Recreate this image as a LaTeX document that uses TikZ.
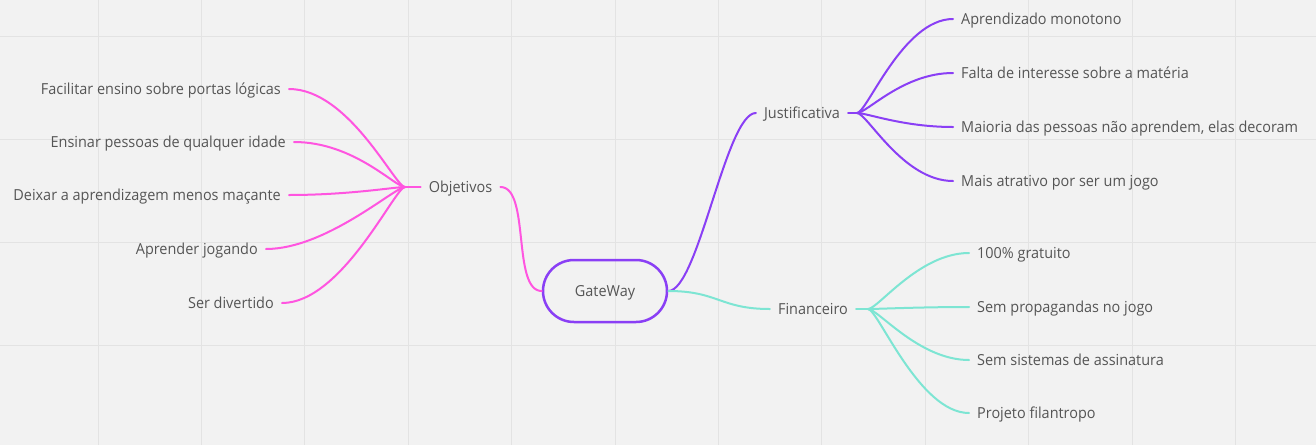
\documentclass[tikz,border=0pt]{standalone}
\usepackage{fontspec}
\setmainfont{Open Sans}[FakeStretch=0.95]
\definecolor{bg}{HTML}{F2F2F2}
\definecolor{gridc}{HTML}{E3E3E3}
\definecolor{pinkc}{HTML}{FF55E0}
\definecolor{purp}{HTML}{8A3FF5}
\definecolor{tealc}{HTML}{7DE5D3}
\definecolor{txt}{HTML}{555555}
\begin{document}
\begin{tikzpicture}[x=1pt,y=-1pt,
  lbl/.style={font=\fontsize{15.2}{18}\selectfont, text=txt, inner xsep=8pt, inner ysep=1pt, text height=12pt, text depth=1.4pt},
  br/.style={line width=2pt, line cap=round}]
\fill[bg] (0,0) rectangle (1316,445);
\useasboundingbox (0,0) rectangle (1316,445);
\foreach \i in {0,...,11} \draw[gridc, line width=1pt] ({98+103.4*\i},0) -- ({98+103.4*\i},445);
\foreach \j in {0,...,3} \draw[gridc, line width=1pt] (0,{36+103*\j}) -- (1316,{36+103*\j});

% central
\node[lbl, draw=purp, line width=2.5pt, rounded corners=31pt, minimum width=124pt, minimum height=62pt] (gw) at (605,291) {GateWay};

% level 1
\node[lbl] (obj) at (460.5,187) {Objetivos};
\node[lbl] (jus) at (802,113) {Justificativa};
\node[lbl] (fin) at (813,309) {Financeiro};

\coordinate (ohub) at (405,187);
\coordinate (jhub) at (857,113);
\coordinate (fhub) at (868,309);

% left children
\node[lbl, anchor=east] (l1) at (289,89) {Facilitar ensino sobre portas lógicas};
\node[lbl, anchor=east] (l2) at (294,142) {Ensinar pessoas de qualquer idade};
\node[lbl, anchor=east] (l3) at (289,195) {Deixar a aprendizagem menos maçante};
\node[lbl, anchor=east] (l4) at (266,249) {Aprender jogando};
\node[lbl, anchor=east] (l5) at (282,303) {Ser divertido};

% justificativa children
\node[lbl, anchor=west] (j1) at (953,19) {Aprendizado monotono};
\node[lbl, anchor=west] (j2) at (953,73) {Falta de interesse sobre a matéria};
\node[lbl, anchor=west] (j3) at (953,127) {Maioria das pessoas não aprendem, elas decoram};
\node[lbl, anchor=west] (j4) at (953,181) {Mais atrativo por ser um jogo};

% financeiro children
\node[lbl, anchor=west] (f1) at (969,253) {100\% gratuito};
\node[lbl, anchor=west] (f2) at (969,307) {Sem propagandas no jogo};
\node[lbl, anchor=west] (f3) at (969,360) {Sem sistemas de assinatura};
\node[lbl, anchor=west] (f4) at (969,413) {Projeto filantropo};

% main connectors
\draw[br, pinkc] (obj.east) .. controls +(30,0) and +(-30,0) .. (gw.west);
\draw[br, purp] (gw.east) .. controls +(30,0) and +(-30,0) .. (jus.west);
\draw[br, tealc] (gw.east) .. controls +(50,0) and +(-50,0) .. (fin.west);

% stubs
\draw[br, pinkc] (obj.west) -- (ohub);
\draw[br, purp] (jus.east) -- (jhub);
\draw[br, tealc] (fin.east) -- (fhub);

% children connectors
\foreach \n in {l1,l2,l3,l4,l5}
  \draw[br, pinkc] (ohub) .. controls +(-10,0) and +(60,0) .. (\n.east);
\foreach \n in {j1,j2,j3,j4}
  \draw[br, purp] (jhub) .. controls +(10,0) and +(-50,0) .. (\n.west);
\foreach \n in {f1,f2,f3,f4}
  \draw[br, tealc] (fhub) .. controls +(10,0) and +(-50,0) .. (\n.west);
\end{tikzpicture}
\end{document}
